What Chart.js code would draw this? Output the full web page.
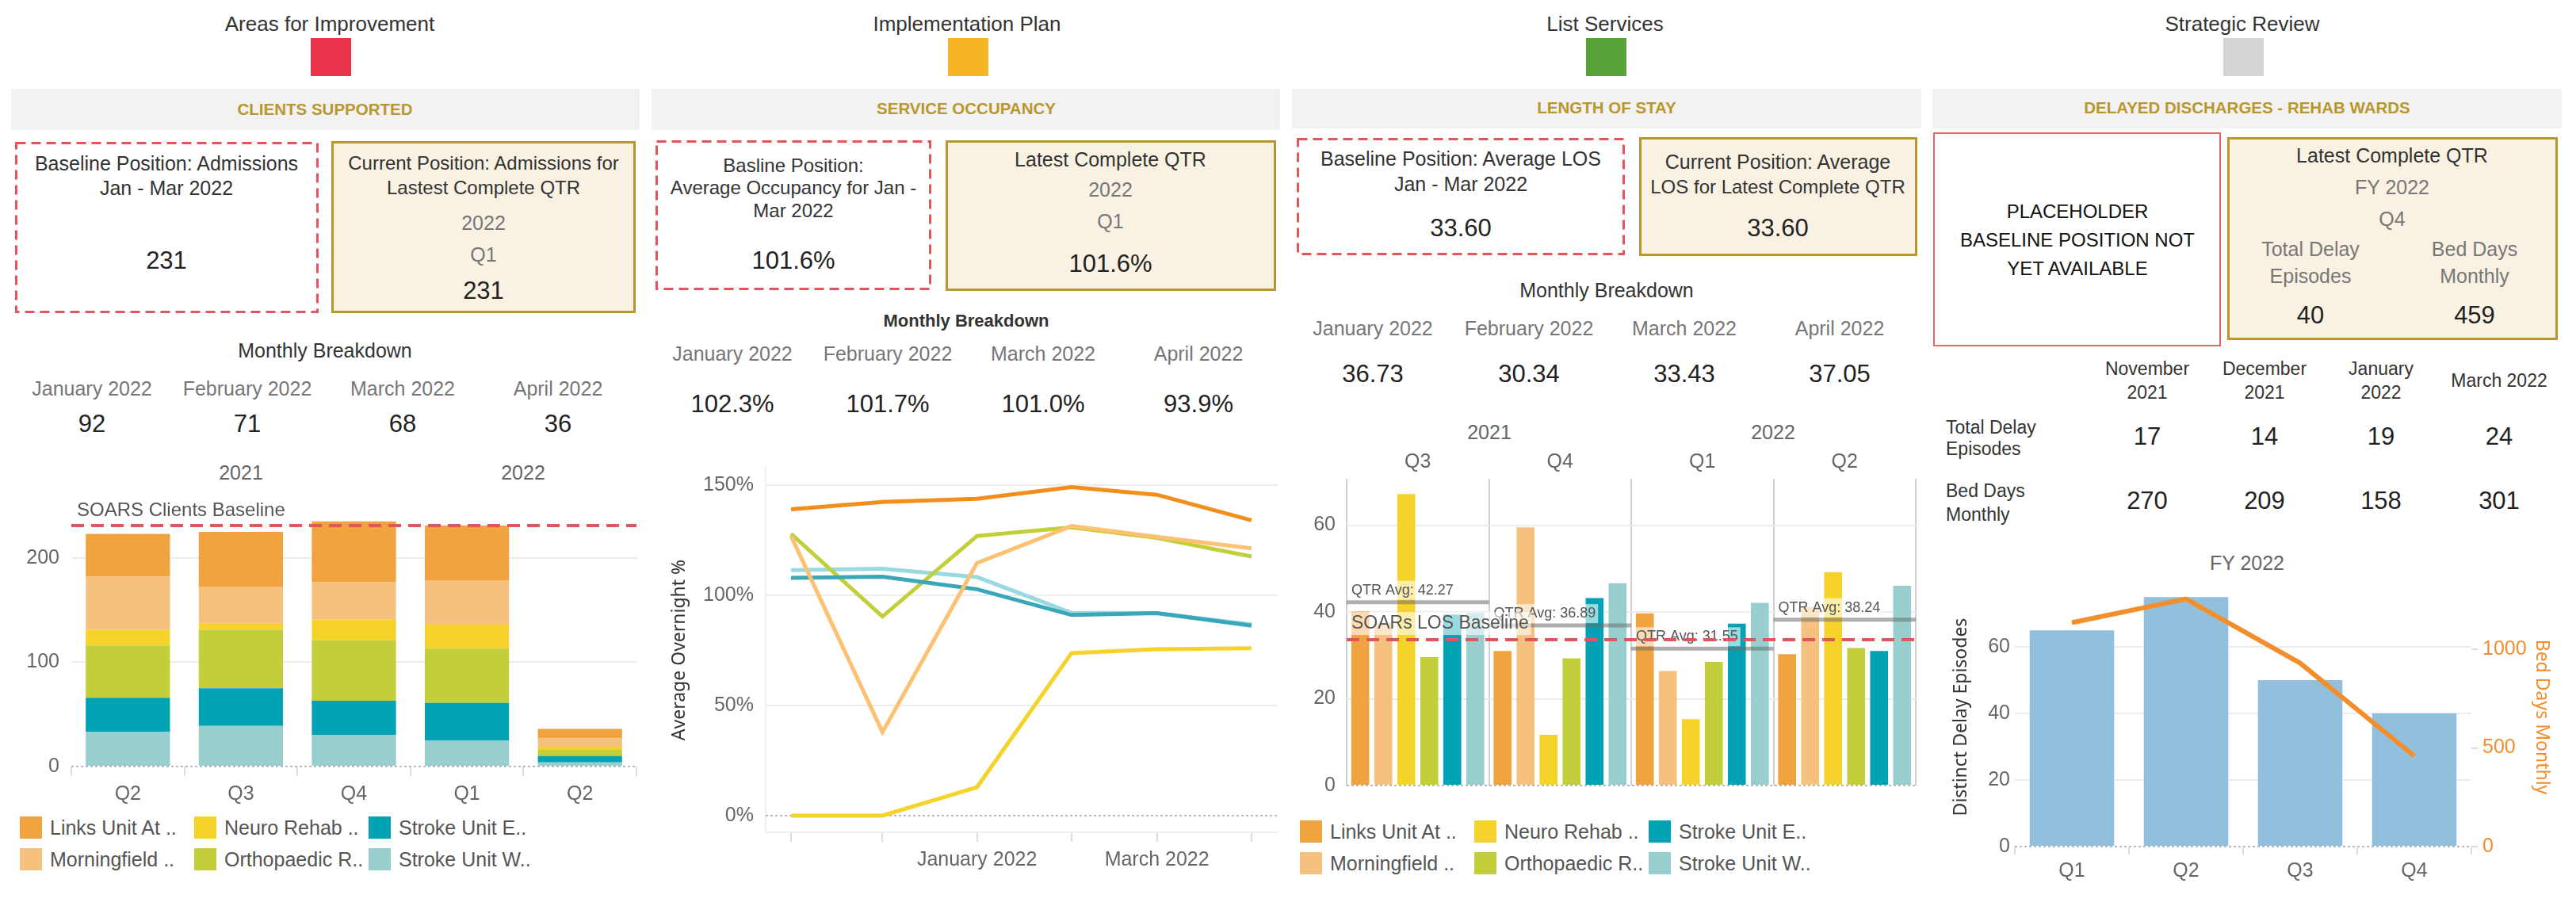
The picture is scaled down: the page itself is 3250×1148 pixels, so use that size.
<!DOCTYPE html>
<html>
<head>
<meta charset="utf-8">
<script src="https://cdn.jsdelivr.net/npm/chart.js@4.4.1/dist/chart.umd.min.js"></script>
<style>
html, body { margin: 0; padding: 0; background: #fff; }
#page { position: relative; width: 3250px; height: 1148px; overflow: hidden; font-family: "Liberation Sans", Arial, sans-serif; color: #333; }
.t { position: absolute; white-space: nowrap; line-height: 1; transform: translate(-50%, -50%); }
.t.left { transform: translate(0, -50%); }
canvas { position: absolute; }
</style>
</head>
<body>
<div id="page"></div>
<script>
// ---- data ----
const wards = ["Links Unit At ..", "Morningfield ..", "Neuro Rehab ..", "Orthopaedic R..", "Stroke Unit E..", "Stroke Unit W.."];

// clients supported (admissions per quarter, stacked)
const admitQuarters = ["Q2", "Q3", "Q4", "Q1", "Q2"];
const admitLinks = [41, 53, 58, 53, 9];
const admitMorning = [51, 35, 36, 42, 8];
const admitNeuro = [15, 6, 20, 23, 3];
const admitOrtho = [50, 56, 58, 52, 6];
const admitStrokeE = [33, 36, 33, 36, 6];
const admitStrokeW = [33, 39, 30, 25, 4];
const admitBaseline = 231;
const admitTicks = [0, 100, 200];

// service occupancy (average overnight %)
const occMonths = ["2021-11-01", "2021-12-01", "2022-01-01", "2022-02-01", "2022-03-01", "2022-04-01"];
const occTickLabels = ["", "", "January 2022", "", "March 2022", ""];
const occLinks = [139.1, 142.4, 143.9, 149.2, 145.7, 134.1];
const occMorning = [127.0, 37.9, 114.7, 131.5, 126.6, 121.4];
const occNeuro = [0, 0, 12.9, 73.8, 75.6, 76.0];
const occOrtho = [128.0, 90.4, 127.0, 130.9, 126.1, 117.7];
const occStrokeE = [108.0, 108.5, 102.8, 91.1, 91.9, 86.3];
const occStrokeW = [111.5, 112.1, 108.3, 92.1, 91.9, 86.8];
const occTicks = [0, 50, 100, 150];

// length of stay per quarter
const losQuarters = ["Q3", "Q4", "Q1", "Q2"];
const losLinks = [40.1, 31.0, 39.7, 30.3];
const losMorning = [37.5, 59.5, 26.4, 41.2];
const losNeuro = [67.2, 11.7, 15.3, 49.2];
const losOrtho = [29.6, 29.3, 28.5, 31.7];
const losStrokeE = [39.4, 43.2, 37.3, 31.0];
const losStrokeW = [39.8, 46.64, 42.1, 46.04];
const losBaseline = 33.6;
const losTicks = [0, 20, 40, 60];

// delayed discharges FY 2022
const fyQuarters = ["Q1", "Q2", "Q3", "Q4"];
const delayEpisodes = [65, 75, 50, 40];
const bedDays = [1135, 1255, 930, 459];
const delayTicks = [0, 20, 40, 60];
const bedDayTicks = [0, 500, 1000];

// monthly breakdown tables
const breakdownMonths = ["January 2022", "February 2022", "March 2022", "April 2022"];
const admitMonthly = ["92", "71", "68", "36"];
const occMonthly = ["102.3%", "101.7%", "101.0%", "93.9%"];
const losMonthly = ["36.73", "30.34", "33.43", "37.05"];
const delayMonths = [["November", "2021"], ["December", "2021"], ["January", "2022"], ["March 2022"]];
const delayMonthly = ["17", "14", "19", "24"];
const bedDaysMonthly = ["270", "209", "158", "301"];

// ---- styles ----
const barColors = ["#F1A340", "#F6C17F", "#F6D32B", "#C2CF3B", "#00A2B3", "#98CECE"];
const lineColors = ["#F28E1C", "#FCC173", "#F6D32B", "#C2CF3B", "#3AA7B9", "#9AD9E0"];
const gold = "#B9972C";
const cream = "#F9F2E3";
const red = "#E4545C";
const tickGrey = "#666";
const FONT = "Liberation Sans";
const titleFont = { family: "Noto Sans", size: 23, weight: "normal" };

Chart.defaults.font.family = FONT;
Chart.defaults.font.size = 25;
Chart.defaults.color = tickGrey;

const page = document.getElementById("page");

function txt(x, y, s, size, color, extra) {
    const d = document.createElement("div");
    d.className = "t";
    d.textContent = s;
    d.style.left = x + "px";
    d.style.top = y + "px";
    d.style.fontSize = size + "px";
    d.style.color = color || "#333";
    if (extra) Object.assign(d.style, extra);
    page.appendChild(d);
    return d;
}

function block(x, y, w, h, color) {
    const d = document.createElement("div");
    Object.assign(d.style, { position: "absolute", left: x + "px", top: y + "px", width: w + "px", height: h + "px", background: color });
    page.appendChild(d);
}

function frame(x, y, w, h, stroke, width, dash, fill) {
    const ns = "http://www.w3.org/2000/svg";
    const svg = document.createElementNS(ns, "svg");
    svg.setAttribute("width", w);
    svg.setAttribute("height", h);
    Object.assign(svg.style, { position: "absolute", left: x + "px", top: y + "px" });
    const r = document.createElementNS(ns, "rect");
    r.setAttribute("x", width / 2);
    r.setAttribute("y", width / 2);
    r.setAttribute("width", w - width);
    r.setAttribute("height", h - width);
    r.setAttribute("fill", fill || "none");
    r.setAttribute("stroke", stroke);
    r.setAttribute("stroke-width", width);
    if (dash) r.setAttribute("stroke-dasharray", dash);
    svg.appendChild(r);
    page.appendChild(svg);
}

function canvasAt(x, y, w, h) {
    const c = document.createElement("canvas");
    c.width = w;
    c.height = h;
    Object.assign(c.style, { left: x + "px", top: y + "px", width: w + "px", height: h + "px" });
    page.appendChild(c);
    return c;
}

function legend(x0, y0, colGap, rowGap) {
    wards.forEach((w, i) => {
        const x = x0 + Math.floor(i / 2) * colGap;
        const y = y0 + (i % 2) * rowGap;
        block(x, y - 14, 28, 28, barColors[i]);
        const t = txt(x + 38, y, w, 25, "#555");
        t.className = "t left";
    });
}

const bold = { fontWeight: "bold" };
const grey = "#777";

// ---- panel 1: clients supported ----
txt(416, 30, "Areas for Improvement", 26);
block(392, 48, 51, 48, "#E8334A");
block(14, 112, 793, 52, "#F2F2F2");
txt(410, 138, "CLIENTS SUPPORTED", 20.5, gold, bold);
frame(19, 179, 383, 216, red, 3, "12 7");
frame(418, 178, 384, 217, gold, 3, null, cream);
txt(210, 206, "Baseline Position: Admissions", 25);
txt(210, 237, "Jan - Mar 2022", 25);
txt(210, 328, "231", 31, "#222");
txt(610, 206, "Current Position: Admissions for", 24);
txt(610, 237, "Lastest Complete QTR", 24);
txt(610, 281, "2022", 25, grey);
txt(610, 321, "Q1", 25, grey);
txt(610, 366, "231", 31, "#222");
txt(410, 442, "Monthly Breakdown", 25);
[116, 312, 508, 704].forEach((x, i) => {
    txt(x, 490, breakdownMonths[i], 25, grey);
    txt(x, 534, admitMonthly[i], 31, "#222");
});
txt(304, 596, "2021", 25, tickGrey);
txt(660, 596, "2022", 25, tickGrey);
legend(25, 1044, 220, 40);

// ---- panel 2: service occupancy ----
txt(1220, 30, "Implementation Plan", 26);
block(1196, 48, 51, 48, "#F6B623");
block(822, 112, 793, 52, "#F2F2F2");
txt(1219, 137, "SERVICE OCCUPANCY", 20.5, gold, bold);
frame(827, 177, 348, 189, red, 3, "12 7");
frame(1193, 177, 417, 190, gold, 3, null, cream);
txt(1001, 209, "Basline Position:", 24);
txt(1001, 237, "Average Occupancy for Jan -", 24);
txt(1001, 266, "Mar 2022", 24);
txt(1001, 328, "101.6%", 31, "#222");
txt(1401, 201, "Latest Complete QTR", 25);
txt(1401, 239, "2022", 25, grey);
txt(1401, 279, "Q1", 25, grey);
txt(1401, 332, "101.6%", 31, "#222");
txt(1219, 405, "Monthly Breakdown", 22, "#333", bold);
[924, 1120, 1316, 1512].forEach((x, i) => {
    txt(x, 446, breakdownMonths[i], 25, grey);
    txt(x, 509, occMonthly[i], 31, "#222");
});

// ---- panel 3: length of stay ----
txt(2025, 30, "List Services", 26);
block(2001, 48, 51, 48, "#56A138");
block(1630, 112, 794, 50, "#F2F2F2");
txt(2027, 136, "LENGTH OF STAY", 20.5, gold, bold);
frame(1636, 174, 414, 148, red, 3, "12 7");
frame(2068, 173, 351, 150, gold, 3, null, cream);
txt(1843, 200, "Baseline Position: Average LOS", 25);
txt(1843, 232, "Jan - Mar 2022", 25);
txt(1843, 287, "33.60", 31, "#222");
txt(2243, 204, "Current Position: Average", 25);
txt(2243, 236, "LOS for Latest Complete QTR", 24);
txt(2243, 287, "33.60", 31, "#222");
txt(2027, 366, "Monthly Breakdown", 25);
[1732, 1929, 2125, 2321].forEach((x, i) => {
    txt(x, 414, breakdownMonths[i], 25, grey);
    txt(x, 471, losMonthly[i], 31, "#222");
});
txt(1879, 545, "2021", 25, tickGrey);
txt(2237, 545, "2022", 25, tickGrey);
legend(1640, 1049, 220, 40);

// ---- panel 4: delayed discharges ----
txt(2829, 30, "Strategic Review", 26);
block(2805, 48, 51, 48, "#D4D4D4");
block(2438, 112, 794, 50, "#F2F2F2");
txt(2835, 136, "DELAYED DISCHARGES - REHAB WARDS", 20.5, gold, bold);
frame(2439, 167, 363, 270, "#E56666", 2);
txt(2621, 267, "PLACEHOLDER", 24, "#111");
txt(2621, 303, "BASELINE POSITION NOT", 24, "#111");
txt(2621, 339, "YET AVAILABLE", 24, "#111");
frame(2810, 173, 417, 256, gold, 3, null, cream);
txt(3018, 196, "Latest Complete QTR", 25);
txt(3018, 236, "FY 2022", 25, grey);
txt(3018, 276, "Q4", 25, grey);
txt(2915, 314, "Total Delay", 25, grey);
txt(2915, 348, "Episodes", 25, grey);
txt(3122, 314, "Bed Days", 25, grey);
txt(3122, 348, "Monthly", 25, grey);
txt(2915, 397, "40", 31, "#222");
txt(3122, 397, "459", 31, "#222");
[2709, 2857, 3004, 3153].forEach((x, i) => {
    const m = delayMonths[i];
    if (m.length === 2) {
        txt(x, 465, m[0], 23);
        txt(x, 495, m[1], 23);
    } else {
        txt(x, 480, m[0], 23);
    }
    txt(x, 550, delayMonthly[i], 31, "#222");
    txt(x, 631, bedDaysMonthly[i], 31, "#222");
});
[["Total Delay", 539], ["Episodes", 566], ["Bed Days", 619], ["Monthly", 649]].forEach(r => {
    txt(2455, r[1], r[0], 23).className = "t left";
});
txt(2835, 710, "FY 2022", 25, tickGrey);

// ---- helpers for charts ----
const base = {
    animation: false,
    responsive: false,
    devicePixelRatio: 1,
    plugins: { legend: { display: false }, tooltip: { enabled: false } }
};

function fixTicks(values) {
    return s => { s.ticks = values.map(v => ({ value: v })); };
}

const gridNoZero = c => (c.tick && c.tick.value === 0) ? "rgba(0,0,0,0)" : "#ececec";

function hLine(ctx, x0, x1, y, color, width, dash) {
    ctx.save();
    ctx.strokeStyle = color;
    ctx.lineWidth = width;
    ctx.setLineDash(dash || []);
    ctx.beginPath();
    ctx.moveTo(x0, y);
    ctx.lineTo(x1, y);
    ctx.stroke();
    ctx.restore();
}

function boxLabel(ctx, x, yBottom, text, size) {
    ctx.save();
    ctx.font = size + "px " + FONT;
    const w = ctx.measureText(text).width;
    ctx.fillStyle = "rgba(255,255,255,0.6)";
    ctx.fillRect(x - 3, yBottom - size - 6, w + 6, size + 6);
    ctx.fillStyle = "#555";
    ctx.textBaseline = "middle";
    ctx.fillText(text, x, yBottom - (size + 6) / 2);
    ctx.restore();
}

// zero line + reference line plugin
const refLines = {
    id: "refLines",
    beforeDatasetsDraw(chart, args, o) {
        const a = chart.chartArea;
        if (o.zero) {
            const y = chart.scales.y.getPixelForValue(0);
            hLine(chart.ctx, a.left, a.right, y, "#b8b8b8", 2, [3, 3]);
        }
    },
    afterDatasetsDraw(chart, args, o) {
        const a = chart.chartArea;
        const ctx = chart.ctx;
        if (o.avgs) {
            const xs = chart.scales.x;
            const pane = (a.right - a.left) / o.avgs.length;
            o.avgs.forEach((v, i) => {
                const cx = xs.getPixelForValue(i);
                const y = chart.scales.y.getPixelForValue(v);
                hLine(ctx, cx - pane / 2, cx + pane / 2, y, "rgba(110,110,110,0.55)", 5);
                boxLabel(ctx, cx - pane / 2 + 6, y - 3, "QTR Avg: " + v.toFixed(2), 18);
            });
        }
        if (o.baseline !== undefined) {
            const y = chart.scales.y.getPixelForValue(o.baseline);
            hLine(ctx, a.left, a.right, y, red, 4, [16, 9]);
            if (o.boxed) {
                boxLabel(ctx, a.left + 6, y - 6, o.label, 23);
            } else {
                ctx.save();
                ctx.font = "24px " + FONT;
                ctx.fillStyle = "#555";
                ctx.textBaseline = "middle";
                ctx.fillText(o.label, a.left + 7, y - 19);
                ctx.restore();
            }
        }
    }
};

// ---- chart 1: clients supported stacked bars ----
const admitSeries = [admitLinks, admitMorning, admitNeuro, admitOrtho, admitStrokeE, admitStrokeW];
const stackOrder = [5, 4, 3, 2, 1, 0];
new Chart(canvasAt(0, 600, 812, 420), {
    type: "bar",
    data: {
        labels: admitQuarters,
        datasets: stackOrder.map(i => ({
            label: wards[i],
            data: admitSeries[i],
            backgroundColor: barColors[i],
            borderWidth: 0,
            barPercentage: 0.745,
            categoryPercentage: 1
        }))
    },
    options: {
        ...base,
        layout: { padding: { top: 38, right: 9, bottom: 0, left: 0 } },
        plugins: { ...base.plugins, refLines: { zero: true, baseline: admitBaseline, label: "SOARS Clients Baseline" } },
        scales: {
            x: {
                stacked: true,
                grid: { offset: true, drawOnChartArea: false, tickLength: 12, color: "#dcdcdc", lineWidth: 2 },
                border: { display: false },
                ticks: { padding: 8 },
                afterFit: s => { s.height = 53; }
            },
            y: {
                stacked: true, min: 0, max: 250,
                afterBuildTicks: fixTicks(admitTicks),
                grid: { drawTicks: false, color: gridNoZero, lineWidth: 2 },
                border: { display: false },
                ticks: { padding: 15 },
                afterFit: s => { s.width = 90; }
            }
        }
    },
    plugins: [refLines]
});

// ---- chart 2: occupancy lines ----
const day0 = Date.parse(occMonths[0]);
const occDays = occMonths.map(m => (Date.parse(m) - day0) / 864e5);
const occSeries = [occLinks, occMorning, occNeuro, occOrtho, occStrokeE, occStrokeW];
const lineOrder = [0, 1, 3, 4, 2, 5];
new Chart(canvasAt(810, 560, 815, 550), {
    type: "line",
    data: {
        datasets: occSeries.map((d, i) => ({
            label: wards[i],
            data: d.map((v, j) => ({ x: occDays[j], y: v })),
            borderColor: lineColors[i],
            borderWidth: 5,
            pointRadius: 0,
            fill: false,
            tension: 0,
            order: lineOrder[i]
        }))
    },
    options: {
        ...base,
        layout: { padding: { top: 11, right: 13, bottom: 0, left: 0 } },
        plugins: { ...base.plugins, refLines: { zero: true } },
        scales: {
            x: {
                type: "linear", min: -8.3, max: 159.6,
                afterBuildTicks: fixTicks(occDays),
                ticks: { autoSkip: false, maxRotation: 0, padding: 8, callback: (v, i) => occTickLabels[i] },
                grid: { drawOnChartArea: false, tickLength: 12, color: "#dcdcdc", lineWidth: 2 },
                border: { display: true, color: "#efefef", width: 2 },
                afterFit: s => { s.height = 60; }
            },
            y: {
                min: -7.6, max: 158,
                afterBuildTicks: fixTicks(occTicks),
                ticks: { padding: 15, callback: v => v + "%" },
                grid: { drawTicks: false, color: gridNoZero, lineWidth: 2 },
                border: { display: true, color: "#efefef", width: 2 },
                title: { display: true, text: "Average Overnight %", color: "#333", font: titleFont, padding: { top: 34, bottom: 0 } },
                afterFit: s => { s.width = 156; }
            }
        }
    },
    plugins: [refLines]
});

// ---- chart 3: length of stay grouped bars ----
const losSeries = [losLinks, losMorning, losNeuro, losOrtho, losStrokeE, losStrokeW];
const losAvgs = losQuarters.map((q, i) => losSeries.reduce((acc, s) => acc + s[i], 0) / losSeries.length);
new Chart(canvasAt(1620, 570, 815, 450), {
    type: "bar",
    data: {
        labels: losQuarters,
        datasets: losSeries.map((d, i) => ({
            label: wards[i],
            data: d,
            backgroundColor: barColors[i],
            borderWidth: 0,
            categoryPercentage: 0.97,
            barPercentage: 0.78
        }))
    },
    options: {
        ...base,
        layout: { padding: { top: 0, right: 18, bottom: 11, left: 0 } },
        plugins: { ...base.plugins, refLines: { zero: true, avgs: losAvgs, baseline: losBaseline, label: "SOARs LOS Baseline", boxed: true } },
        scales: {
            x: {
                position: "top",
                grid: { offset: true, color: "#d0d0d0", lineWidth: 2, drawTicks: false },
                border: { display: false },
                ticks: { padding: 6 },
                afterFit: s => { s.height = 34; }
            },
            y: {
                min: 0, max: 70.7,
                afterBuildTicks: fixTicks(losTicks),
                grid: { drawTicks: false, color: gridNoZero, lineWidth: 2 },
                border: { display: false },
                ticks: { padding: 14 },
                afterFit: s => { s.width = 79; }
            }
        }
    },
    plugins: [refLines]
});

// ---- chart 4: delayed discharges combo ----
new Chart(canvasAt(2430, 720, 820, 400), {
    data: {
        labels: fyQuarters,
        datasets: [
            { type: "line", label: "Bed Days Monthly", data: bedDays, yAxisID: "y1", borderColor: "#F28E2B", borderWidth: 6, pointRadius: 0, tension: 0, order: 0 },
            { type: "bar", label: "Distinct Delay Episodes", data: delayEpisodes, yAxisID: "y", backgroundColor: "#93BFDE", borderWidth: 0, barPercentage: 0.74, categoryPercentage: 1, order: 1 }
        ]
    },
    options: {
        ...base,
        layout: { padding: { top: 13, right: 0, bottom: 0, left: 0 } },
        plugins: { ...base.plugins, refLines: { zero: true } },
        scales: {
            x: {
                grid: { offset: true, drawOnChartArea: false, tickLength: 10, color: "#dcdcdc", lineWidth: 2 },
                border: { display: false },
                ticks: { padding: 6 },
                afterFit: s => { s.height = 52; }
            },
            y: {
                position: "left", min: 0, max: 77.9,
                afterBuildTicks: fixTicks(delayTicks),
                grid: { drawTicks: false, color: gridNoZero, lineWidth: 2 },
                border: { display: false },
                ticks: { padding: 6 },
                title: { display: true, text: "Distinct Delay Episodes", color: "#333", font: titleFont, padding: { top: 31, bottom: 0 } },
                afterFit: s => { s.width = 112; }
            },
            y1: {
                position: "right", min: 0, max: 1314,
                afterBuildTicks: fixTicks(bedDayTicks),
                grid: { drawOnChartArea: false, tickLength: 8, color: "#dcdcdc", lineWidth: 2 },
                border: { display: false },
                ticks: { padding: 6, color: "#F28E2B", callback: v => String(v) },
                title: { display: true, text: "Bed Days Monthly", color: "#F28E2B", font: titleFont, padding: { top: 30, bottom: 0 } },
                afterFit: s => { s.width = 132; }
            }
        }
    },
    plugins: [refLines]
});
</script>
</body>
</html>
